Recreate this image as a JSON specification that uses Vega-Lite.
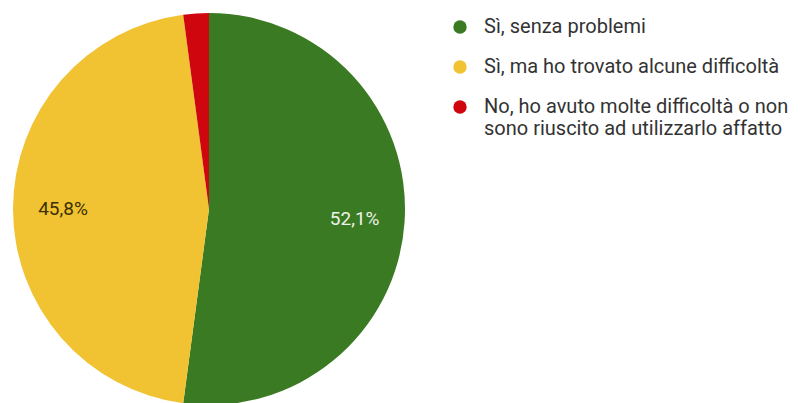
{
  "$schema": "https://vega.github.io/schema/vega-lite/v6.json",
  "width": 392,
  "height": 392,
  "padding": {"left": 13, "top": 13, "right": 0, "bottom": 0},
  "background": "#ffffff",
  "config": {
    "view": {"stroke": null},
    "font": "Roboto",
    "locale": {"number": {"decimal": ",", "thousands": ".", "grouping": [3], "currency": ["", " €"]}}
  },
  "data": {
    "values": [
      {"risposta": "Sì, senza problemi", "quota": 0.521, "ordine": 1},
      {"risposta": "Sì, ma ho trovato alcune difficoltà", "quota": 0.458, "ordine": 2},
      {"risposta": "No, ho avuto molte difficoltà o non sono riuscito ad utilizzarlo affatto", "quota": 0.021, "ordine": 3}
    ]
  },
  "encoding": {
    "theta": {"field": "quota", "type": "quantitative", "stack": true},
    "order": {"field": "ordine", "type": "quantitative"}
  },
  "layer": [
    {
      "mark": {"type": "arc"},
      "encoding": {
        "color": {
          "field": "risposta",
          "type": "nominal",
          "scale": {
            "domain": ["Sì, senza problemi", "Sì, ma ho trovato alcune difficoltà", "No, ho avuto molte difficoltà o non sono riuscito ad utilizzarlo affatto"],
            "range": ["#3a7a22", "#f1c232", "#d0060f"]
          },
          "legend": {
            "orient": "none",
            "legendX": 437,
            "legendY": 4,
            "title": null,
            "padding": 0,
            "symbolType": "circle",
            "symbolSize": 180,
            "symbolStrokeWidth": 0,
            "symbolOpacity": 1,
            "labelFont": "Roboto",
            "labelFontSize": 20,
            "labelColor": "#333333",
            "labelOffset": 14,
            "labelLimit": 600,
            "rowPadding": 20,
            "labelExpr": "datum.label == 'No, ho avuto molte difficoltà o non sono riuscito ad utilizzarlo affatto' ? ['No, ho avuto molte difficoltà o non', 'sono riuscito ad utilizzarlo affatto'] : datum.label"
          }
        }
      }
    },
    {
      "transform": [{"filter": "datum.quota > 0.05"}],
      "mark": {"type": "text", "radius": 146, "fontSize": 19, "font": "Roboto"},
      "encoding": {
        "detail": {"field": "risposta", "type": "nominal"},
        "text": {"field": "quota", "type": "quantitative", "format": ".1%"},
        "color": {"condition": {"test": "datum.ordine == 1", "value": "#eef3ea"}, "value": "#3a3000"}
      }
    }
  ]
}
